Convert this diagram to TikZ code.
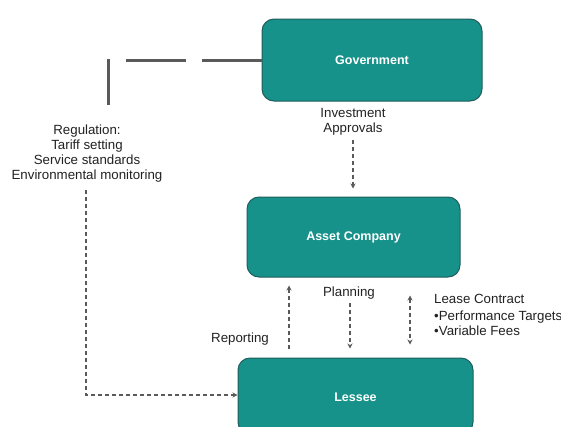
\documentclass[tikz,border=0pt]{standalone}
\usepackage{fontspec}
\setmainfont{Liberation Sans}
\usetikzlibrary{arrows.meta}
\definecolor{tealfill}{HTML}{17928A}
\definecolor{tealedge}{HTML}{1F5E5B}
\definecolor{linegray}{HTML}{5A5A5A}
\definecolor{textgray}{HTML}{222222}
\begin{document}
\begin{tikzpicture}[x=1pt,y=-1pt,
  box/.style={draw=tealedge, line width=1pt, fill=tealfill, rounded corners=12pt,
    text=white, font=\fontsize{12.5}{15}\selectfont\bfseries, inner sep=0pt},
  lbl/.style={text=textgray, font=\fontsize{13.3}{15}\selectfont, align=center, inner sep=1pt},
  arr/.style={draw=linegray, line width=1.4pt, dash pattern=on 4pt off 3pt,
    -{Stealth[length=5pt,width=5pt]}},
  arrb/.style={draw=linegray, line width=1.4pt, dash pattern=on 4pt off 3pt,
    {Stealth[length=5pt,width=5pt]}-{Stealth[length=5pt,width=5pt]}},
  thickdash/.style={draw=linegray, line width=3pt, dash pattern=on 60pt off 16pt}
]
\useasboundingbox (0,0) rectangle (561,426);
\fill[white] (0,0) rectangle (561,426);
\clip (0,0) rectangle (561,426);

\node[box, minimum width=220, minimum height=82] (gov) at (372,60) {Government};
\node[box, minimum width=213, minimum height=80] (asset) at (353.5,237) {Asset Company};
\node[box, minimum width=235, minimum height=76, text height=10pt, text depth=0pt] (lessee) at (355.5,396) {Lessee};

% regulation
\coordinate (corner) at (108,60);
\coordinate (regtop) at (108,105);
\draw[thickdash] (gov.west) -- (corner) -- (regtop);
\node[lbl] (reg) at (87,154) {Regulation:\\Tariff setting\\Service standards\\Environmental monitoring};
\coordinate (regbot) at (86,190);
\draw[arr] (regbot) -- (regbot |- 0,395) -- (lessee.west |- 0,395);

% investment approvals
\node[lbl] (inv) at (353,122) {Investment\\Approvals};
\draw[arr, shorten <=3pt, shorten >=8pt] (inv.south) -- (inv.south |- asset.north);

% reporting
\coordinate (rx) at (289,0);
\draw[arr, shorten <=9pt, shorten >=8pt] (rx |- lessee.north) -- (rx |- asset.south);
\node[lbl] (rep) at (240,339) {Reporting};

% planning
\node[lbl] (plan) at (349,293) {Planning};
\coordinate (px) at (350,0);
\draw[arr, shorten <=3pt, shorten >=9pt] (px |- plan.south) -- (px |- lessee.north);

% lease contract
\coordinate (lx) at (410,0);
\draw[arrb, shorten <=18pt, shorten >=13pt] (lx |- asset.south) -- (lx |- lessee.north);
\node[lbl, align=left, anchor=north west] (lease) at (433,293)
  {Lease Contract\\[2pt]\textbullet Performance Targets\\\textbullet Variable Fees};
\end{tikzpicture}
\end{document}
